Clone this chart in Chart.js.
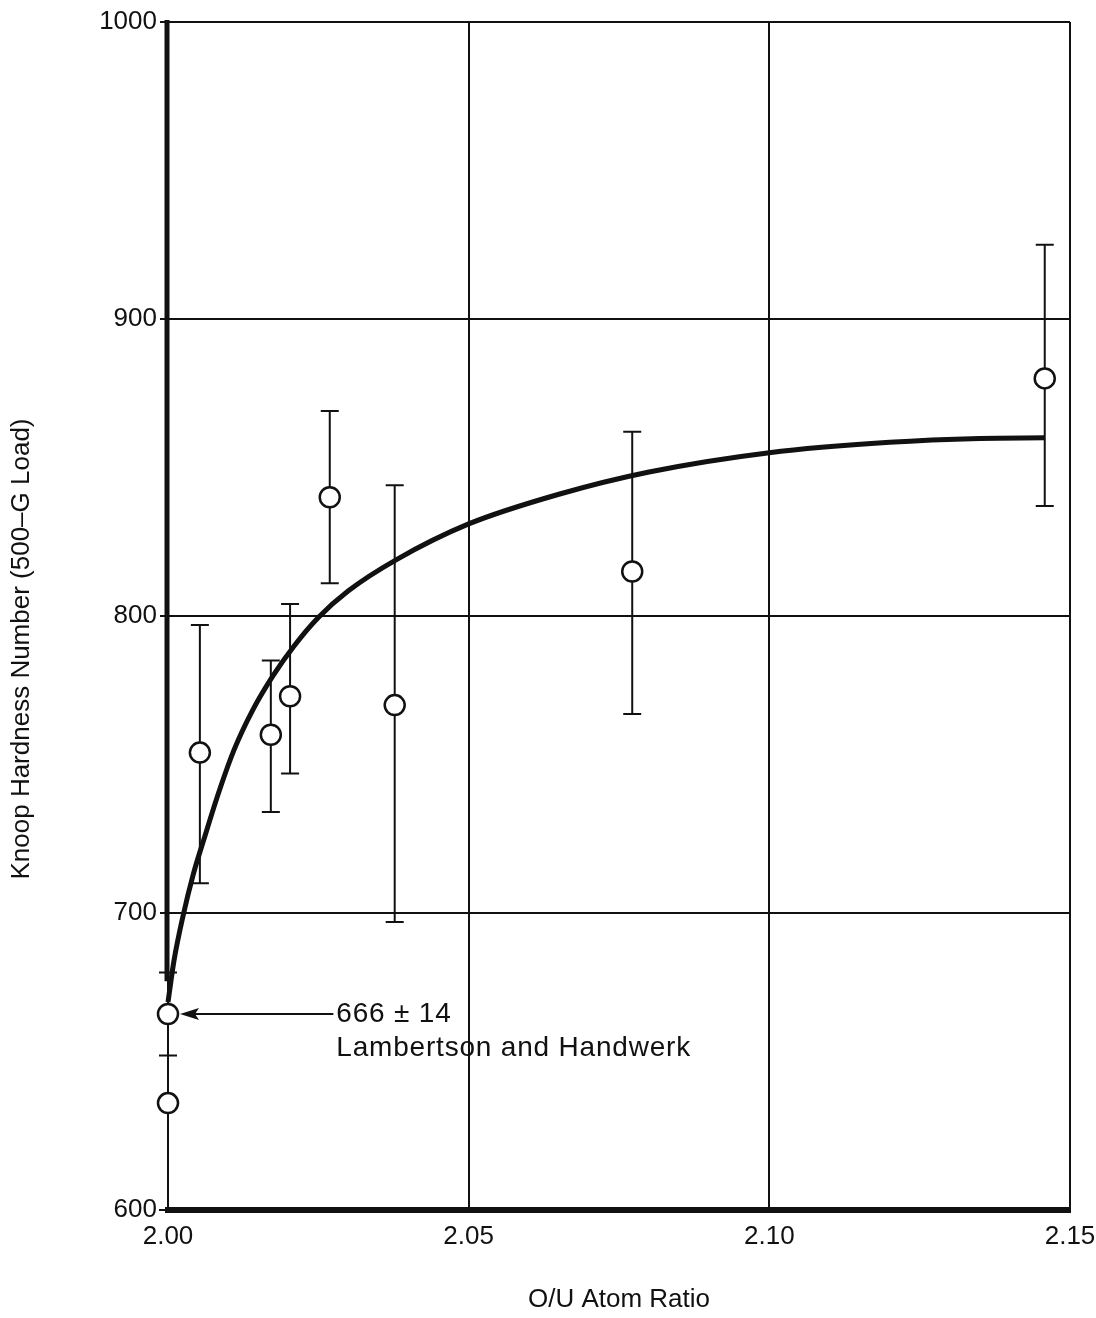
<!DOCTYPE html>
<html>
<head>
<meta charset="utf-8">
<script src="https://cdn.jsdelivr.net/npm/chart.js@4/dist/chart.umd.min.js"></script>
<style>
  html, body { margin: 0; padding: 0; background: #ffffff; }
  #wrap { width: 1096px; height: 1318px; }
</style>
</head>
<body>
<div id="wrap"><canvas id="chart" width="1096" height="1318"></canvas></div>
<script>
// Axis ticks
const ratioTicks = [2.00, 2.05, 2.10, 2.15];
const hardnessTicks = [600, 700, 800, 900, 1000];

// Measured Knoop hardness (500-g load) against O/U ratio, with scatter limits
const sampleRatio    = [2.000, 2.000, 2.0053, 2.0171, 2.0203, 2.0269, 2.0377, 2.0772, 2.1458];
const sampleHardness = [666,   636,   754,    760,    773,    840,    770,    815,    880];
const hardnessLow    = [652,   600,   710,    734,    747,    811,    697,    767,    837];
const hardnessHigh   = [680,   666,   797,    785,    804,    869,    844,    862,    925];

// Faired hardness curve
const curveRatio    = [2.0000, 2.0010, 2.0025, 2.0042, 2.0060, 2.0085, 2.0110, 2.0140, 2.0175,
                       2.0210, 2.0250, 2.0300, 2.0380, 2.0500, 2.0650, 2.0800, 2.1000, 2.1200,
                       2.1350, 2.1458];
const curveHardness = [670, 684, 699, 713, 725, 741, 755, 768, 780,
                       790, 799.5, 808.5, 819, 831, 841, 848.5, 855, 858.5,
                       859.8, 860];

// Texts
const xTitle = 'O/U Atom Ratio';
const yTitle = 'Knoop Hardness Number (500\u2013G Load)';
const refNote = ['666 \u00b1 14', 'Lambertson and Handwerk'];

const FONT = '"Liberation Sans", Arial, sans-serif';
const INK = '#111111';

// Vertical scatter bars with end caps, plus the heavy upper part of the ordinate
const errorBars = {
  id: 'errorBars',
  beforeDatasetsDraw(chart) {
    const { ctx, scales: { x, y } } = chart;
    ctx.save();
    ctx.strokeStyle = INK;
    ctx.lineCap = 'butt';
    // heavy ordinate line down to the reference point's bar
    const axisX = x.getPixelForValue(ratioTicks[0]) - 1;
    ctx.lineWidth = 5;
    ctx.beginPath();
    ctx.moveTo(axisX, y.getPixelForValue(hardnessTicks[hardnessTicks.length - 1]) - 2);
    ctx.lineTo(axisX, y.getPixelForValue(hardnessHigh[0] - 3));
    ctx.stroke();

    ctx.lineWidth = 2;
    sampleRatio.forEach((r, i) => {
      const px = x.getPixelForValue(r);
      const lo = y.getPixelForValue(hardnessLow[i]);
      const hi = y.getPixelForValue(hardnessHigh[i]);
      ctx.beginPath();
      ctx.moveTo(px, lo);
      ctx.lineTo(px, hi);
      ctx.moveTo(px - 9, lo);
      ctx.lineTo(px + 9, lo);
      ctx.moveTo(px - 9, hi);
      ctx.lineTo(px + 9, hi);
      ctx.stroke();
    });
    ctx.restore();
  }
};

// Arrowed note for the literature value and the rotated ordinate title
const notes = {
  id: 'notes',
  afterDatasetsDraw(chart, args, opts) {
    const { ctx, chartArea, scales: { x, y } } = chart;
    const px = x.getPixelForValue(sampleRatio[0]);
    const py = y.getPixelForValue(sampleHardness[0]);
    const tailX = x.getPixelForValue(opts.noteRatio);
    ctx.save();
    ctx.strokeStyle = INK;
    ctx.fillStyle = INK;
    ctx.lineWidth = 2;
    ctx.beginPath();
    ctx.moveTo(tailX, py);
    ctx.lineTo(px + 24, py);
    ctx.stroke();
    ctx.beginPath();
    ctx.moveTo(px + 12, py);
    ctx.lineTo(px + 31, py - 6);
    ctx.lineTo(px + 27, py);
    ctx.lineTo(px + 31, py + 6);
    ctx.closePath();
    ctx.fill();

    ctx.font = '28px ' + FONT;
    ctx.textBaseline = 'middle';
    ctx.textAlign = 'left';
    ctx.letterSpacing = '0.8px';
    ctx.fillText(refNote[0], tailX + 3, py);
    ctx.fillText(refNote[1], tailX + 3, py + 34);
    ctx.letterSpacing = '0px';

    // ordinate title
    ctx.font = '26px ' + FONT;
    ctx.textAlign = 'center';
    ctx.translate(opts.yTitleX, (chartArea.top + chartArea.bottom) / 2 + opts.yTitleShift);
    ctx.rotate(-Math.PI / 2);
    ctx.fillText(yTitle, 0, 0);
    ctx.restore();
  }
};

new Chart(document.getElementById('chart'), {
  type: 'scatter',
  data: {
    datasets: [
      {
        label: 'Knoop hardness',
        data: sampleRatio.map((r, i) => ({ x: r, y: sampleHardness[i] })),
        pointRadius: 10,
        pointHoverRadius: 10,
        pointBorderWidth: 2.5,
        pointBackgroundColor: '#ffffff',
        pointBorderColor: INK,
        showLine: false,
        clip: false,
        order: 0
      },
      {
        label: 'Curve',
        data: curveRatio.map((r, i) => ({ x: r, y: curveHardness[i] })),
        showLine: true,
        borderColor: INK,
        borderWidth: 5,
        pointRadius: 0,
        cubicInterpolationMode: 'monotone',
        clip: false,
        order: 1
      }
    ]
  },
  options: {
    responsive: false,
    animation: false,
    devicePixelRatio: 1,
    layout: { padding: { top: 22, right: 26, left: 0, bottom: 0 } },
    plugins: {
      legend: { display: false },
      tooltip: { enabled: false },
      notes: { noteRatio: 2.0275, yTitleX: 22, yTitleShift: 33 }
    },
    scales: {
      x: {
        type: 'linear',
        min: ratioTicks[0],
        max: ratioTicks[ratioTicks.length - 1],
        afterBuildTicks: s => { s.ticks = ratioTicks.map(v => ({ value: v })); },
        afterFit: s => { s.height = 108; s.paddingLeft = 0; s.paddingRight = 0; },
        grid: { color: INK, lineWidth: 2, drawTicks: false },
        border: { display: true, color: INK, width: 6 },
        ticks: {
          color: INK,
          font: { family: FONT, size: 26 },
          padding: 11,
          maxRotation: 0,
          callback: v => v.toFixed(2)
        },
        title: {
          display: true,
          text: xTitle,
          color: INK,
          font: { family: FONT, size: 26, lineHeight: '36px' },
          padding: 0
        }
      },
      y: {
        type: 'linear',
        min: hardnessTicks[0],
        max: hardnessTicks[hardnessTicks.length - 1],
        afterBuildTicks: s => { s.ticks = hardnessTicks.map(v => ({ value: v })); },
        afterFit: s => { s.width = 168; s.paddingTop = 0; s.paddingBottom = 0; },
        grid: { color: INK, lineWidth: 2, drawTicks: true, tickLength: 8 },
        border: { display: true, color: INK, width: 2 },
        ticks: {
          color: INK,
          font: { family: FONT, size: 26 },
          padding: 3,
          callback: v => String(v)
        }
      }
    }
  },
  plugins: [errorBars, notes]
});
</script>
</body>
</html>
